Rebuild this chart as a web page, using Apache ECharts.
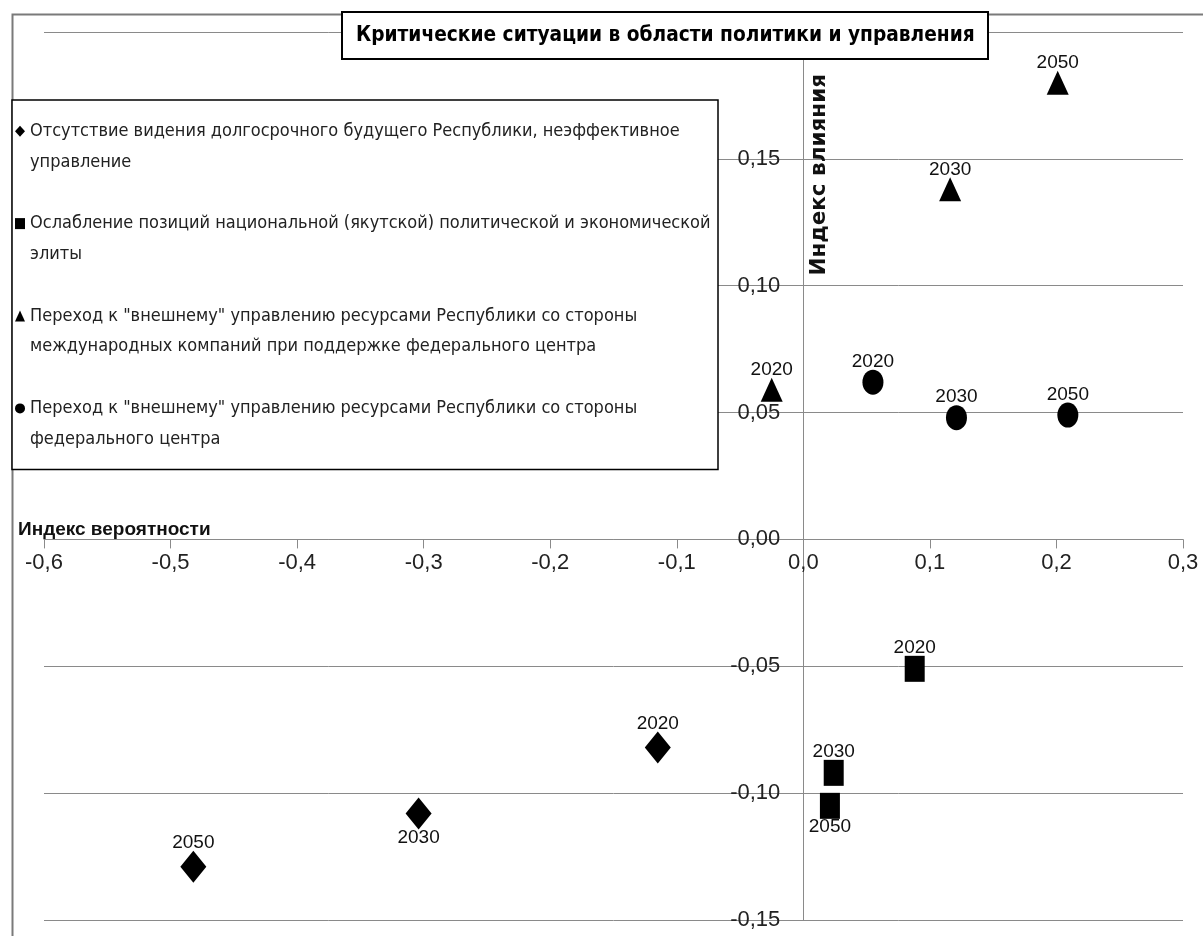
<!DOCTYPE html>
<html>
<head>
<meta charset="utf-8">
<script src="https://cdn.jsdelivr.net/npm/echarts@6/dist/echarts.min.js"></script>
<style>
  html, body { margin: 0; padding: 0; background: #fff; }
  #chart { width: 1203px; height: 936px; }
</style>
</head>
<body>
<div id="chart"></div>
<script>
// ---- data ----
const seriesNames = [
  'Отсутствие видения долгосрочного будущего Республики, неэффективное\nуправление',
  'Ослабление позиций национальной (якутской) политической и экономической\nэлиты',
  'Переход к "внешнему" управлению ресурсами Республики со стороны\nмеждународных компаний при поддержке федерального центра',
  'Переход к "внешнему" управлению ресурсами Республики со стороны\nфедерального центра'
];
const years = ['2020', '2030', '2050'];

// probability index (x) and impact index (y) per year
const vision_x   = [-0.115, -0.304, -0.482];
const vision_y   = [-0.082, -0.108, -0.129];
const elite_x    = [0.088, 0.024, 0.021];
const elite_y    = [-0.051, -0.092, -0.105];
const intlCo_x   = [-0.025, 0.116, 0.201];
const intlCo_y   = [0.059, 0.138, 0.180];
const federal_x  = [0.055, 0.121, 0.209];
const federal_y  = [0.062, 0.048, 0.049];

const xTickLabels = ['-0,6', '-0,5', '-0,4', '-0,3', '-0,2', '-0,1', '0,0', '0,1', '0,2', '0,3'];
const yTickLabels = ['-0,15', '-0,10', '-0,05', '0,00', '0,05', '0,10', '0,15', '0,20'];

const titleText = 'Критические ситуации в области политики и управления';
const xName = 'Индекс вероятности';
const yName = 'Индекс влияния';

// ---- presentation ----
const CONDENSED = '"DejaVu Sans Condensed", "DejaVu Sans", sans-serif';
const SANS = '"Liberation Sans", Arial, sans-serif';
const ellipse = 'path://M0 50A50 50 0 1 1 100 50A50 50 0 1 1 0 50Z';
const symbols = ['diamond', 'rect', 'triangle', ellipse];
const symbolSizes = [[26, 32], [20, 26], [22, 24], [21, 25]];
const labelsBelow = [['2030'], ['2050'], [], []];

const xs = [vision_x, elite_x, intlCo_x, federal_x];
const ys = [vision_y, elite_y, intlCo_y, federal_y];

const X_MIN = -0.6, X_MAX = 0.3, X_STEP = 0.1;
const Y_MIN = -0.15, Y_MAX = 0.2, Y_STEP = 0.05;
const GRID = { left: 44, right: 20, top: 32, bottom: 16 };
const GRID_GRAY = '#8a8a8a';

const el = document.getElementById('chart');
const chart = echarts.init(el, null, { renderer: 'canvas' });

// the axes cross at (0, 0): shift each axis from the grid edge to the zero line
const plotW = chart.getWidth() - GRID.left - GRID.right;
const plotH = chart.getHeight() - GRID.top - GRID.bottom;
const yAxisShift = (0 - X_MIN) / (X_MAX - X_MIN) * plotW;
const xAxisShift = (0 - Y_MIN) / (Y_MAX - Y_MIN) * plotH;

const series = seriesNames.map((name, s) => ({
  type: 'scatter',
  name: name,
  symbol: symbols[s],
  symbolSize: symbolSizes[s],
  itemStyle: { color: '#000', opacity: 1 },
  label: {
    show: true,
    position: 'top',
    distance: -1,
    formatter: '{b}',
    color: '#111',
    opacity: 1,
    fontFamily: SANS,
    fontSize: 19,
    lineHeight: 18
  },
  emphasis: { disabled: true },
  data: years.map((yr, i) => {
    const item = { name: yr, value: [xs[s][i], ys[s][i]] };
    if (labelsBelow[s].indexOf(yr) >= 0) item.label = { position: 'bottom' };
    return item;
  })
}));

chart.setOption({
  animation: false,
  backgroundColor: '#fff',
  title: {
    text: titleText,
    left: 342,
    top: 12,
    padding: [10, 14, 10, 14],
    backgroundColor: '#fff',
    borderColor: '#000',
    borderWidth: 2,
    textStyle: {
      fontFamily: CONDENSED,
      fontWeight: 'bold',
      fontSize: 20.7,
      lineHeight: 27,
      color: '#000'
    },
    z: 10
  },
  legend: {
    orient: 'vertical',
    left: 12,
    top: 100,
    padding: [-15, 5, 15, 3],
    itemGap: 0,
    itemWidth: 10,
    itemHeight: 11,
    backgroundColor: '#fff',
    borderColor: '#000',
    borderWidth: 1.5,
    selectedMode: false,
    formatter: (name) => ' \n' + name,
    textStyle: {
      fontFamily: CONDENSED,
      fontSize: 18,
      lineHeight: 30.8,
      color: '#222',
      width: 683
    },
    z: 10
  },
  grid: {
    left: GRID.left,
    right: GRID.right,
    top: GRID.top,
    bottom: GRID.bottom,
    containLabel: false,
    outerBoundsMode: 'none'
  },
  xAxis: {
    type: 'value',
    position: 'bottom',
    offset: -xAxisShift,
    min: X_MIN,
    max: X_MAX,
    interval: X_STEP,
    name: xName,
    nameLocation: 'start',
    nameGap: 26,
    nameMoveOverlap: false,
    nameTextStyle: {
      fontFamily: SANS,
      fontWeight: 'bold',
      fontSize: 19,
      color: '#111',
      align: 'left',
      verticalAlign: 'bottom',
      lineHeight: 20
    },
    axisLine: { show: true, onZero: false, lineStyle: { color: GRID_GRAY, width: 1 } },
    axisTick: { show: true, inside: false, length: 9, lineStyle: { color: GRID_GRAY } },
    splitLine: { show: false },
    axisLabel: {
      margin: 13,
      fontFamily: SANS,
      fontSize: 22,
      color: '#222',
      showMinLabel: true,
      showMaxLabel: true,
      formatter: (v) => xTickLabels[Math.round((v - X_MIN) / X_STEP)]
    }
  },
  yAxis: {
    type: 'value',
    position: 'left',
    offset: -yAxisShift,
    min: Y_MIN,
    max: Y_MAX,
    interval: Y_STEP,
    name: yName,
    nameLocation: 'end',
    nameRotate: 90,
    nameGap: -42,
    nameMoveOverlap: false,
    nameTextStyle: {
      fontFamily: '"DejaVu Sans", sans-serif',
      fontWeight: 'bold',
      fontSize: 21.5,
      color: '#111',
      align: 'right',
      verticalAlign: 'top',
      padding: [5, 0, 0, 0]
    },
    axisLine: { show: true, onZero: false, lineStyle: { color: GRID_GRAY, width: 1 } },
    axisTick: { show: false },
    splitLine: { show: true, lineStyle: { color: GRID_GRAY, width: 1 } },
    axisLabel: {
      margin: 23,
      fontFamily: SANS,
      fontSize: 22,
      color: '#222',
      showMinLabel: true,
      showMaxLabel: true,
      formatter: (v) => yTickLabels[Math.round((v - Y_MIN) / Y_STEP)]
    }
  },
  graphic: [{
    type: 'rect',
    left: 10,
    top: 12,
    shape: { width: 1210, height: 940 },
    style: { fill: 'none', stroke: '#7a7a7a', lineWidth: 2 },
    silent: true,
    z: -10
  }],
  series: series
});
</script>
</body>
</html>
